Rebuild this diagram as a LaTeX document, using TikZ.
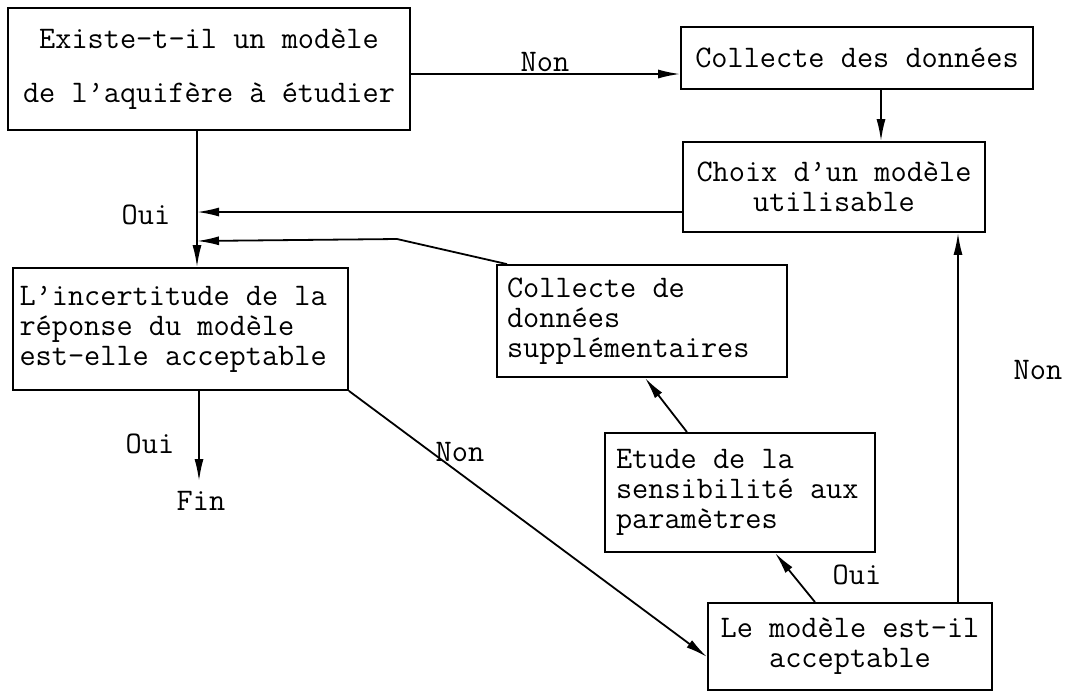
\documentclass[tikz,border=0pt]{standalone}
\usepackage{fontspec}
\usetikzlibrary{arrows.meta}
\begin{document}
\begin{tikzpicture}[x=0.5pt,y=-0.5pt,
  every node/.style={font=\ttfamily\fontsize{15.7}{15}\selectfont},
  box/.style={draw, line width=0.9pt, inner sep=0pt},
  lbox/.style={box, align=left, execute at begin node={\spaceskip=0pt\xspaceskip=0pt}},
  lbl/.style={inner sep=0pt},
  arr/.style={line width=0.9pt, -{Latex[length=11pt,width=4.5pt]}}]
\useasboundingbox (0,0) rectangle (1089,693);
% boxes
\node[box, minimum width=201pt, minimum height=61pt, align=center,
  font=\ttfamily\fontsize{15.7}{27}\selectfont] (b1) at (209,69)
  {Existe-t-il un modèle\\de l’aquifère à étudier};
\node[box, minimum width=176pt, minimum height=31pt] (coll) at (857,58) {Collecte des données};
\node[box, minimum width=151pt, minimum height=45pt, align=center] (choix) at (834,187)
  {Choix d’un modèle\\utilisable};
\node[lbox, minimum width=167.5pt, minimum height=61pt, text width=161pt] (inc) at (180.5,329)
  {L’incertitude de la\\réponse du modèle\\est-elle acceptable};
\node[lbox, minimum width=145pt, minimum height=56pt, text width=135pt] (supp) at (642,321)
  {Collecte de\\données\\supplémentaires};
\node[lbox, minimum width=135pt, minimum height=59.5pt, text width=124pt] (etude) at (740,492.5)
  {Etude de la\\sensibilité aux\\paramètres};
\node[box, minimum width=142pt, minimum height=43.5pt, align=center] (mod) at (850,646.5)
  {Le modèle est-il\\acceptable};
\node[lbl] (fin) at (201,501) {Fin};
% labels
\node[lbl] (nonA) at (545,62) {Non};
\node[lbl] (ouiA) at (146,215) {Oui};
\node[lbl] (ouiB) at (150,444) {Oui};
\node[lbl] (nonB) at (460,452) {Non};
\node[lbl] (ouiC) at (857,575) {Oui};
\node[lbl] (nonC) at (1038,370) {Non};
% junction points
\coordinate (j1) at (197,212);
\coordinate (j2) at (197,241);
\coordinate (bend) at (397,239);
\coordinate (finTop) at (199,481);
% connectors
\draw[arr] (b1.east |- 0,74) -- (coll.west |- 0,74);
\draw[arr] (coll.south -| 881,0) -- (choix.north -| 881,0);
\draw[arr] (b1.south -| 197,0) -- (inc.north -| 197,0);
\draw[arr] (choix.west |- j1) -- (j1);
\draw[arr] (supp.north -| 507,0) -- (bend) -- (j2);
\draw[arr] (inc.south -| finTop) -- (finTop);
\draw[arr] (inc.south east) -- (mod.west |- 0,657);
\draw[arr] (mod.north -| 815,0) -- (etude.south -| 775,0);
\draw[arr] (etude.north -| 687,0) -- (supp.south -| 645,0);
\draw[arr] (mod.north -| 958,0) -- (choix.south -| 958,0);
\end{tikzpicture}
\end{document}
